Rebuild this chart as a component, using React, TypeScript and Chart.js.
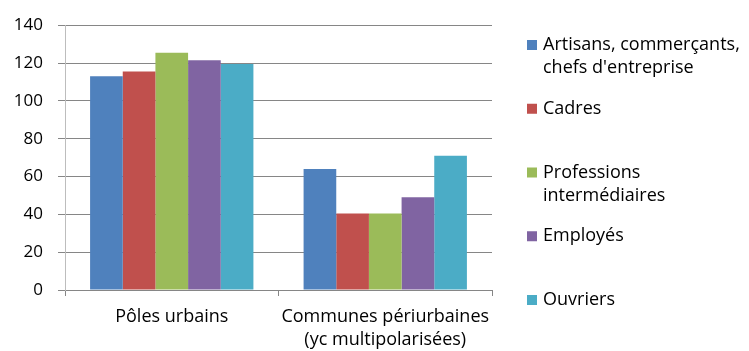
import { useEffect, useRef } from 'react';
import { Chart, registerables } from 'chart.js';

Chart.register(...registerables);

// Categories (multi-line axis labels)
const categories: string[][] = [
  ['Pôles urbains'],
  ['Communes périurbaines', '(yc multipolarisées)'],
];

// Series names, split into the lines shown in the legend
const seriesLabels: string[][] = [
  ['Artisans, commerçants,', "chefs d'entreprise"],
  ['Cadres'],
  ['Professions', 'intermédiaires'],
  ['Employés'],
  ['Ouvriers'],
];

// Values per category
const artisans = [113, 64];
const cadres = [115.5, 40.5];
const professions = [125.5, 40.5];
const employes = [121.5, 49];
const ouvriers = [119.5, 71];

const seriesValues = [artisans, cadres, professions, employes, ouvriers];
const seriesColors = ['#4F81BD', '#C0504D', '#9BBB59', '#8064A2', '#4BACC6'];

const yTicks = [0, 20, 40, 60, 80, 100, 120, 140];

const FONT_FAMILY = '"Open Sans", "Noto Sans", sans-serif';
const FONT_SIZE = 18;
const TEXT_COLOR = '#000000';
const GRID_COLOR = '#868686';

// Legend drawn to the right of the plot, one entry per series
const sideLegend = {
  id: 'sideLegend',
  afterDraw(chart: any) {
    const ctx = chart.ctx as CanvasRenderingContext2D;
    ctx.save();
    ctx.font = `${FONT_SIZE}px ${FONT_FAMILY}`;
    ctx.textBaseline = 'middle';
    ctx.textAlign = 'left';
    chart.data.datasets.forEach((ds: any, i: number) => {
      const y0 = 45 + i * 63.75;
      ctx.fillStyle = ds.backgroundColor;
      ctx.fillRect(527, y0 - 5, 10, 10);
      ctx.fillStyle = TEXT_COLOR;
      seriesLabels[i].forEach((line, j) => ctx.fillText(line, 543, y0 + j * 23));
    });
    ctx.restore();
  },
};

export default function App() {
  const canvasRef = useRef<HTMLCanvasElement | null>(null);

  useEffect(() => {
    if (!canvasRef.current) return;
    const chart = new Chart(canvasRef.current, {
      type: 'bar',
      data: {
        labels: categories,
        datasets: seriesValues.map((values, i) => ({
          label: seriesLabels[i].join(' '),
          data: values,
          backgroundColor: seriesColors[i],
          borderWidth: 0,
          barPercentage: 1,
          categoryPercentage: 0.765,
        })),
      },
      options: {
        animation: false,
        responsive: false,
        maintainAspectRatio: false,
        layout: { padding: { top: 22, right: 257, left: 0, bottom: 0 } },
        plugins: {
          legend: { display: false },
          tooltip: { enabled: false },
        },
        scales: {
          x: {
            afterFit(scale: any) {
              scale.height = 61;
            },
            grid: {
              display: true,
              drawOnChartArea: false,
              drawTicks: true,
              tickLength: 6,
              color: GRID_COLOR,
              offset: true,
            },
            border: { display: true, color: GRID_COLOR, width: 1 },
            ticks: {
              color: TEXT_COLOR,
              font: { family: FONT_FAMILY, size: FONT_SIZE, lineHeight: '23px' as any },
              padding: 9,
              maxRotation: 0,
              autoSkip: false,
            },
          },
          y: {
            min: 0,
            max: 140,
            afterFit(scale: any) {
              scale.width = 65;
            },
            afterBuildTicks(scale: any) {
              scale.ticks = yTicks.map((v) => ({ value: v }));
            },
            grid: {
              color: GRID_COLOR,
              tickLength: 7,
              drawTicks: true,
            },
            border: { display: true, color: '#bdbdbd', width: 1 },
            ticks: {
              color: TEXT_COLOR,
              font: { family: FONT_FAMILY, size: 17 },
              padding: 15,
            },
          },
        },
      },
      plugins: [sideLegend],
    });
    return () => chart.destroy();
  }, []);

  return (
    <div style={{ position: 'absolute', left: 0, top: 0, width: 749, height: 351, background: '#fff' }}>
      <canvas ref={canvasRef} width={749} height={351} style={{ width: 749, height: 351 }} />
    </div>
  );
}
